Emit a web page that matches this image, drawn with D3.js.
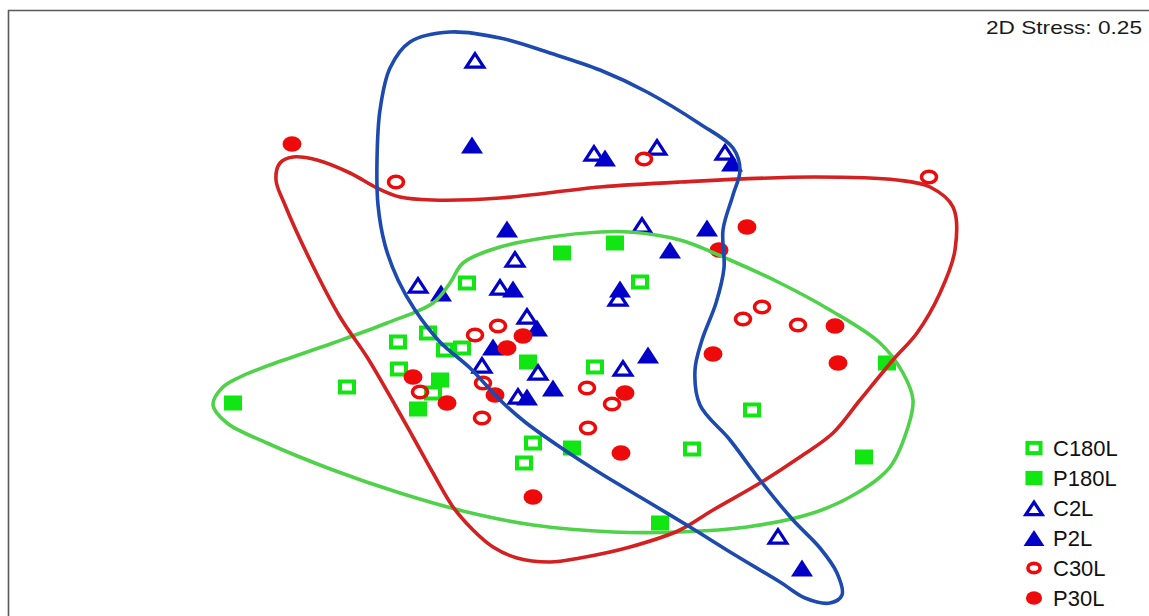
<!DOCTYPE html>
<html>
<head>
<meta charset="utf-8">
<script src="https://cdn.jsdelivr.net/npm/d3@7"></script>
<style>
  html, body { margin: 0; padding: 0; background: #fff; }
  svg { display: block; }
  text { font-family: "Liberation Sans", Arial, sans-serif; }
</style>
</head>
<body>
<svg id="chart" width="1149" height="616"></svg>
<script>
// NMDS ordination coordinates, [axis1, axis2] per sample
const C180L = [[-0.565,0.185],[0.300,0.190],[-0.910,-0.110],[-0.760,-0.065],[-0.675,-0.150],[-0.590,-0.140],
  [-0.905,-0.245],[-1.165,-0.335],[-0.735,-0.365],[0.075,-0.235],[0.860,-0.450],[-0.235,-0.615],[-0.280,-0.715],[0.560,-0.645]];
const P180L = [[-0.090,0.335],[0.175,0.385],[-0.260,-0.210],[-0.700,-0.300],[-1.735,-0.415],[-0.810,-0.445],
  [-0.040,-0.640],[1.535,-0.215],[1.420,-0.685],[0.400,-1.015]];
const C2L = [[-0.525,1.300],[0.070,0.835],[0.385,0.865],[0.725,0.840],[0.310,0.475],[-0.325,0.305],[-0.810,0.175],
  [-0.400,0.165],[-0.265,0.020],[0.190,0.110],[-0.490,-0.225],[-0.210,-0.260],[-0.310,-0.380],[0.215,-0.240],[0.990,-1.080]];
const P2L = [[-0.540,0.875],[0.125,0.810],[0.760,0.785],[-0.365,0.455],[0.635,0.460],[0.450,0.350],[-0.695,0.135],
  [-0.335,0.155],[0.200,0.155],[-0.215,-0.040],[-0.435,-0.135],[-0.265,-0.385],[-0.135,-0.340],[0.340,-0.175],[1.110,-1.240]];
const C30L = [[-0.920,0.690],[0.320,0.805],[1.745,0.715],[-0.410,-0.030],[-0.525,-0.075],[-0.485,-0.315],[-0.800,-0.360],
  [-0.490,-0.490],[0.035,-0.340],[0.160,-0.420],[0.040,-0.540],[0.910,0.065],[0.815,0.005],[1.090,-0.025]];
const P30L = [[-1.440,0.880],[0.835,0.465],[0.695,0.350],[-0.285,-0.080],[-0.365,-0.140],[-0.835,-0.285],[-0.665,-0.415],
  [-0.425,-0.375],[0.225,-0.365],[0.205,-0.665],[-0.235,-0.885],[0.665,-0.170],[1.275,-0.030],[1.290,-0.215]];

// Group envelopes (smoothed closed outlines), in ordination units
const envelope180 = [[-1.835,-0.425],[-1.790,-0.340],[-1.700,-0.285],[-1.565,-0.230],[-1.235,-0.115],[-0.965,-0.015],
  [-0.735,0.085],[-0.650,0.185],[-0.585,0.285],[-0.400,0.365],[-0.150,0.415],[0.100,0.440],[0.250,0.440],[0.500,0.400],
  [0.750,0.300],[1.000,0.185],[1.250,0.050],[1.500,-0.115],[1.615,-0.265],[1.665,-0.400],[1.640,-0.535],[1.550,-0.735],
  [1.385,-0.865],[1.165,-0.965],[0.835,-1.035],[0.500,-1.060],[0.165,-1.060],[-0.235,-1.025],[-0.565,-0.960],
  [-0.900,-0.865],[-1.235,-0.750],[-1.565,-0.615],[-1.765,-0.515]];
const envelope30 = [[-1.435,0.815],[-1.315,0.800],[-1.150,0.735],[-1.015,0.660],[-0.900,0.615],[-0.735,0.600],
  [-0.400,0.610],[0.100,0.665],[0.500,0.690],[1.165,0.715],[1.585,0.700],[1.750,0.665],[1.865,0.565],[1.875,0.350],
  [1.800,0.135],[1.685,-0.065],[1.565,-0.200],[1.400,-0.400],[1.265,-0.565],[1.100,-0.685],[0.900,-0.815],[0.665,-0.950],
  [0.500,-1.050],[0.250,-1.135],[0.000,-1.190],[-0.150,-1.210],[-0.315,-1.190],[-0.435,-1.135],[-0.535,-1.050],
  [-0.635,-0.935],[-0.735,-0.765],[-0.835,-0.585],[-0.925,-0.425],[-1.065,-0.185],[-1.200,0.015],[-1.350,0.300],
  [-1.475,0.575],[-1.520,0.700],[-1.500,0.785]];
const envelope2 = [[-0.650,1.440],[-0.400,1.410],[-0.150,1.335],[0.100,1.250],[0.335,1.140],[0.600,0.980],[0.765,0.860],
  [0.800,0.750],[0.765,0.625],[0.715,0.450],[0.720,0.260],[0.680,0.085],[0.610,-0.100],[0.575,-0.250],[0.600,-0.425],
  [0.750,-0.600],[0.900,-0.800],[1.065,-1.000],[1.200,-1.140],[1.285,-1.265],[1.310,-1.375],[1.250,-1.415],[1.125,-1.390],
  [1.000,-1.310],[0.775,-1.175],[0.550,-1.035],[0.300,-0.885],[0.100,-0.765],[-0.100,-0.635],[-0.275,-0.510],
  [-0.400,-0.400],[-0.550,-0.240],[-0.700,-0.110],[-0.825,0.050],[-0.910,0.200],[-0.975,0.375],[-1.010,0.575],
  [-1.015,0.800],[-1.000,1.050],[-0.950,1.260],[-0.850,1.390]];

const groupNames = ["C180L", "P180L", "C2L", "P2L", "C30L", "P30L"];
const stressLabel = "2D Stress: 0.25";

const GREEN = "#12e612", BLUE = "#0000c8", RED = "#ee0a0a";
const styles = {
  C180L: {shape: "square",   open: true,  color: GREEN, data: C180L},
  P180L: {shape: "square",   open: false, color: GREEN, data: P180L},
  C2L:   {shape: "triangle", open: true,  color: BLUE,  data: C2L},
  P2L:   {shape: "triangle", open: false, color: BLUE,  data: P2L},
  C30L:  {shape: "circle",   open: true,  color: RED,   data: C30L},
  P30L:  {shape: "circle",   open: false, color: RED,   data: P30L}
};

const svg = d3.select("#chart");
const x = d3.scaleLinear().domain([-1, 1]).range([380, 780]);
const y = d3.scaleLinear().domain([-1, 1]).range([520, 120]);

// frame (top and left edges)
svg.append("path")
  .attr("d", "M8.5,616 L8.5,10.5 L1149,10.5")
  .attr("fill", "none").attr("stroke", "#5a5a5a").attr("stroke-width", 1.6);

function drawMarker(g, shape, open, color, cx, cy, k) {
  k = k || 1;
  if (shape === "square") {
    const w = 18 * k, h = 15 * k;
    if (open) {
      g.append("rect").attr("x", cx - w/2 + 2).attr("y", cy - h/2 + 2)
        .attr("width", w - 4).attr("height", h - 4)
        .attr("fill", "none").attr("stroke", color).attr("stroke-width", 4);
    } else {
      g.append("rect").attr("x", cx - w/2).attr("y", cy - h/2)
        .attr("width", w).attr("height", h).attr("fill", color);
    }
  } else if (shape === "triangle") {
    const w = 22 * k, h = 17 * k;
    const pts = open
      ? [[cx, cy - h/2 + 2.2], [cx - w/2 + 2.2, cy + h/2 - 1.4], [cx + w/2 - 2.2, cy + h/2 - 1.4]]
      : [[cx, cy - h/2], [cx - w/2, cy + h/2], [cx + w/2, cy + h/2]];
    const p = g.append("polygon").attr("points", pts.map(d => d.join(",")).join(" "));
    if (open) p.attr("fill", "none").attr("stroke", color).attr("stroke-width", 3.2).attr("stroke-linejoin", "miter");
    else p.attr("fill", color);
  } else {
    const rx = 9.5 * k, ry = 7.8 * k;
    if (open) {
      g.append("ellipse").attr("cx", cx).attr("cy", cy).attr("rx", rx - 2).attr("ry", ry - 2)
        .attr("fill", "none").attr("stroke", color).attr("stroke-width", 3.6);
    } else {
      g.append("ellipse").attr("cx", cx).attr("cy", cy).attr("rx", rx).attr("ry", ry).attr("fill", color);
    }
  }
}

// sample points
const pts = svg.append("g");
groupNames.forEach(name => {
  const s = styles[name];
  s.data.forEach(d => drawMarker(pts, s.shape, s.open, s.color, x(d[0]), y(d[1])));
});

// envelopes drawn over the points
const outline = d3.line().x(d => x(d[0])).y(d => y(d[1])).curve(d3.curveCatmullRomClosed.alpha(0.5));
[[envelope180, "#4fd24a"], [envelope30, "#d42020"], [envelope2, "#1d4aae"]].forEach(([e, c]) => {
  svg.append("path").attr("d", outline(e)).attr("fill", "none")
    .attr("stroke", c).attr("stroke-width", 3.6).attr("stroke-linejoin", "round");
});

// stress annotation
svg.append("text").attr("x", 986).attr("y", 34)
  .attr("font-size", 19).attr("fill", "#1a1a1a")
  .attr("textLength", 156).attr("lengthAdjust", "spacingAndGlyphs")
  .text(stressLabel);

// legend
const legend = svg.append("g");
groupNames.forEach((name, i) => {
  const s = styles[name];
  const cy = 448 + i * 30;
  drawMarker(legend, s.shape, s.open, s.color, 1034, cy, s.shape === "circle" ? 0.85 : 0.95);
  legend.append("text").attr("x", 1053).attr("y", cy + 8)
    .attr("font-size", 22).attr("fill", "#111").text(name);
});
</script>
</body>
</html>
